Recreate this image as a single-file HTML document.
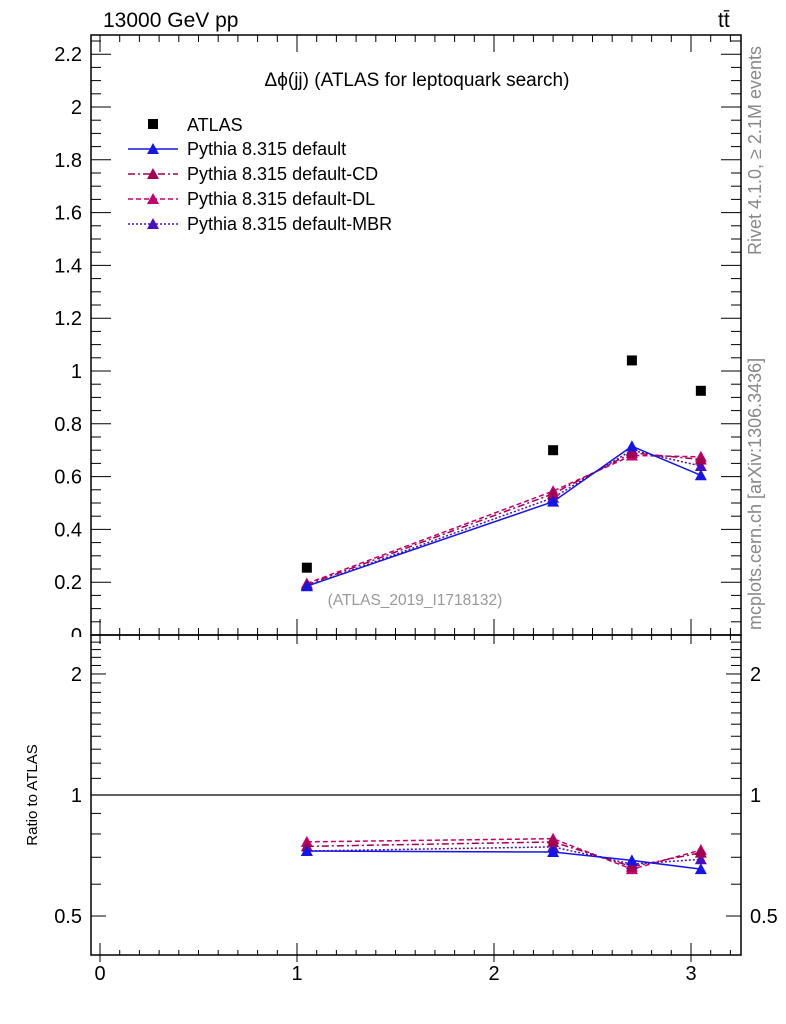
<!DOCTYPE html>
<html><head><meta charset="utf-8"><style>
body{margin:0;background:#fff}
svg{display:block;font-family:"Liberation Sans",sans-serif}
</style></head><body>
<svg id="c" width="786" height="1024" viewBox="0 0 786 1024">
<text x="103" y="27" font-size="21">13000 GeV pp</text>
<text x="718" y="27" font-size="21">tt̄</text>
<text transform="translate(761,255) rotate(-90)" font-size="18" fill="#888">Rivet 4.1.0, ≥ 2.1M events</text>
<text transform="translate(761,630) rotate(-90)" font-size="18" fill="#888">mcplots.cern.ch [arXiv:1306.3436]</text>
<text x="417" y="86" font-size="19" text-anchor="middle">Δϕ(jj) (ATLAS for leptoquark search)</text>
<text x="415" y="605" font-size="15.5" fill="#999" text-anchor="middle">(ATLAS_2019_I1718132)</text>
<text transform="translate(37,795) rotate(-90)" font-size="15" text-anchor="middle">Ratio to ATLAS</text>
<g id="g"></g>
</svg>
<script>
const xs=[1.05,2.3,2.7,3.05];
const atlas=[0.255,0.70,1.04,0.925];
const mcDefault=[0.185,0.505,0.715,0.605];
const mcCD=[0.19,0.535,0.69,0.665];
const mcDL=[0.195,0.545,0.68,0.675];
const mcMBR=[0.185,0.52,0.70,0.64];
const mainTicks=[0,0.2,0.4,0.6,0.8,1,1.2,1.4,1.6,1.8,2,2.2];
const mainTickLabels=["0","0.2","0.4","0.6","0.8","1","1.2","1.4","1.6","1.8","2","2.2"];
const ratioTicks=[0.5,1,2];
const ratioTickLabels=["0.5","1","2"];
const xTicks=[0,1,2,3];
const seriesNames=["Pythia 8.315 default","Pythia 8.315 default-CD","Pythia 8.315 default-DL","Pythia 8.315 default-MBR"];

const L=91,R=741,T=35,M=635,B=955;
const X=v=>100+197*v;
const Y=v=>635-264*v;
const YR=v=>795-174.6*Math.log(v);
const g=document.getElementById('g');
const NS='http://www.w3.org/2000/svg';
function el(t,a,p){const e=document.createElementNS(NS,t);for(const k in a)e.setAttribute(k,a[k]);(p||g).appendChild(e);return e;}
function txt(x,y,s,anchor,name){const e=el('text',{x:x,y:y,'font-size':20,'text-anchor':anchor});e.textContent=s;

return e;}
// white mask for clipped "0" label
let f1=el('rect',{x:L,y:T,width:R-L,height:M-T,fill:'none',stroke:'#000','stroke-width':1.5});


let f2=el('rect',{x:L,y:M,width:R-L,height:B-M,fill:'none',stroke:'#000','stroke-width':1.5});


// main y ticks
for(let v=0;v<=2.26;v+=0.05){const y=Y(v);if(y<T)continue;const maj=Math.abs(v/0.2-Math.round(v/0.2))<0.01;const l=maj?20:10;
el('line',{x1:L,y1:y,x2:L+l,y2:y,stroke:'#000'});el('line',{x1:R,y1:y,x2:R-l,y2:y,stroke:'#000'});}
mainTicks.forEach((v,i)=>{const t=txt(82,Y(v)+7,mainTickLabels[i],'end','y-tick-label');});
let cover=el('rect',{x:60,y:637,width:30,height:14,fill:'#fff'});
// ratio ticks
[0.5,0.6,0.7,0.8,0.9,1,1.1,1.2,1.3,1.4,1.5,1.6,1.7,1.8,1.9,2,2.1,2.2,2.3,2.4].forEach(v=>{const y=YR(v);if(y<M)return;const l=v===1?20:(v===0.5||v===2?15:10);
el('line',{x1:L,y1:y,x2:L+l,y2:y,stroke:'#000'});el('line',{x1:R,y1:y,x2:R-l,y2:y,stroke:'#000'});});
ratioTicks.forEach((v,i)=>{txt(82,YR(v)+7,ratioTickLabels[i],'end','ratio-tick-label');txt(750,YR(v)+7,ratioTickLabels[i],'start','ratio-tick-label-right');});
// x ticks
for(let k=-0;k<=32;k++){const v=k/10;const x=X(v);if(x<L||x>R)continue;const maj=k%10===0;
const up=maj?16:7,dn=maj?9:5;
el('line',{x1:x,y1:M-up,x2:x,y2:M+dn,stroke:'#000'});
el('line',{x1:x,y1:T,x2:x,y2:T+(maj?17:7),stroke:'#000'});
el('line',{x1:x,y1:B-(maj?12:5),x2:x,y2:B+(maj?7:0),stroke:'#000'});}
xTicks.forEach(v=>txt(X(v),980,String(v),'middle','x-tick-label'));
let one=el('line',{x1:L,y1:YR(1),x2:R,y2:YR(1),stroke:'#000','stroke-width':1.2});


// series
const styles=[{c:'#1515e6',d:''},{c:'#a3004f',d:'7,3,2,3'},{c:'#c4006e',d:'5,3'},{c:'#4a10c0',d:'2,2'}];
const mcs=[mcDefault,mcCD,mcDL,mcMBR];
function tri(x,y,c){return el('polygon',{points:`${x-6},${y+5} ${x+6},${y+5} ${x},${y-6}`,fill:c});}
[3,2,1,0].forEach(i=>{const s=styles[i],d=mcs[i];
let p=el('polyline',{points:xs.map((x,j)=>X(x)+','+Y(d[j])).join(' '),fill:'none',stroke:s.c,'stroke-width':1.5,'stroke-dasharray':s.d});


let q=el('polyline',{points:xs.map((x,j)=>X(x)+','+YR(d[j]/atlas[j])).join(' '),fill:'none',stroke:s.c,'stroke-width':1.5,'stroke-dasharray':s.d});


xs.forEach((x,j)=>{let t=tri(X(x),Y(d[j]),s.c);


let u=tri(X(x),YR(d[j]/atlas[j]),s.c);

});
});
xs.forEach((x,j)=>{let r=el('rect',{x:X(x)-5,y:Y(atlas[j])-5,width:10,height:10,fill:'#000'});

});
// legend
let lr=el('rect',{x:148,y:119,width:10,height:10,fill:'#000'});


txt(187,131,'ATLAS','start','legend-entry').setAttribute('font-size',18);
seriesNames.forEach((n,i)=>{const y=149+25*i,s=styles[i];
let l=el('line',{x1:128,y1:y,x2:178,y2:y,stroke:s.c,'stroke-width':1.5,'stroke-dasharray':s.d});


tri(153,y,s.c);
txt(187,y+6,n,'start','legend-entry').setAttribute('font-size',18);});
</script>
</body></html>
